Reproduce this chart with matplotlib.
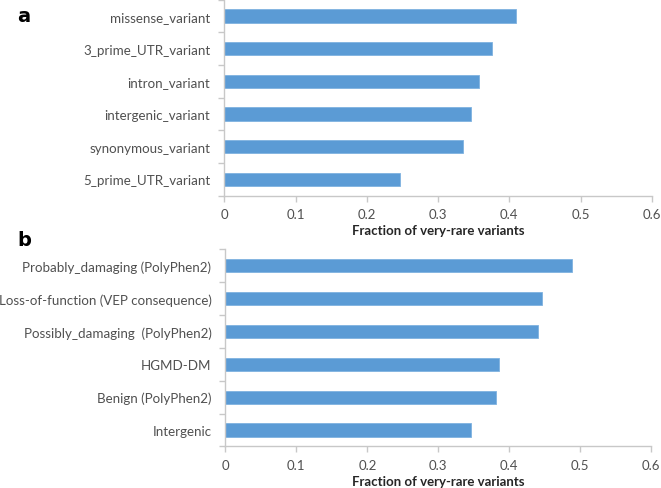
import numpy as np
import matplotlib
matplotlib.use("Agg")
import matplotlib.pyplot as plt
from matplotlib.ticker import FixedLocator

plt.rcParams['font.family'] = ['Lato', 'DejaVu Sans']

# panel a: consequence classes
cats_a = ['5_prime_UTR_variant', 'synonymous_variant', 'intergenic_variant',
          'intron_variant', '3_prime_UTR_variant', 'missense_variant']
vals_a = [0.246, 0.335, 0.346, 0.358, 0.376, 0.410]

# panel b: functional annotations
cats_b = ['Intergenic', 'Benign (PolyPhen2)', 'HGMD-DM',
          'Possibly_damaging  (PolyPhen2)', 'Loss-of-function (VEP consequence)',
          'Probably_damaging (PolyPhen2)']
vals_b = [0.346, 0.381, 0.385, 0.440, 0.446, 0.489]

xticks = [0, 0.1, 0.2, 0.3, 0.4, 0.5, 0.6]
xlabel = 'Fraction of very-rare variants'

bar_color = '#5b9bd5'
axis_color = '#c8c8c8'
text_color = '#505050'

fig = plt.figure(figsize=(6.61, 4.89), dpi=100)
ax_a = fig.add_axes([0.3393, 0.5978, 0.986 - 0.3393, 0.9986 - 0.5978])
ax_b = fig.add_axes([0.3409, 0.0849, 0.9853 - 0.3409, 0.4888 - 0.0849])


def style(ax, cats, vals):
    y = np.arange(len(cats))
    ax.barh(y, vals, height=0.4, color=bar_color, edgecolor='#7fb2e0', linewidth=0.6)
    ax.set_xlim(0, 0.6)
    ax.set_ylim(-0.5, len(cats) - 0.5)
    ax.set_yticks(y)
    ax.set_yticklabels(cats)
    ax.yaxis.set_minor_locator(FixedLocator(np.arange(len(cats) + 1) - 0.5))
    ax.set_xticks(xticks)
    ax.set_xticklabels([f'{t:g}' for t in xticks])
    for s in ['top', 'right']:
        ax.spines[s].set_visible(False)
    for s in ['left', 'bottom']:
        ax.spines[s].set_color(axis_color)
        ax.spines[s].set_linewidth(1.0)
    ax.tick_params(axis='y', which='major', length=0, pad=10, labelsize=9.6, labelcolor=text_color)
    ax.tick_params(axis='y', which='minor', length=4, color=axis_color, width=1.0)
    ax.tick_params(axis='x', which='major', length=4, color=axis_color, width=1.0,
                   pad=5, labelsize=9.5, labelcolor=text_color)
    ax.set_xlabel(xlabel, fontsize=9.5, fontweight='bold', color='#262626', labelpad=3)


style(ax_a, cats_a, vals_a)
style(ax_b, cats_b, vals_b)

fig.text(17 / 661, 1 - 17 / 489, 'a', fontsize=14, fontweight='bold',
         family='DejaVu Sans', va='center', ha='left')
fig.text(17 / 661, 1 - 240 / 489, 'b', fontsize=14, fontweight='bold',
         family='DejaVu Sans', va='center', ha='left')

fig.savefig('out.png', dpi=100)
